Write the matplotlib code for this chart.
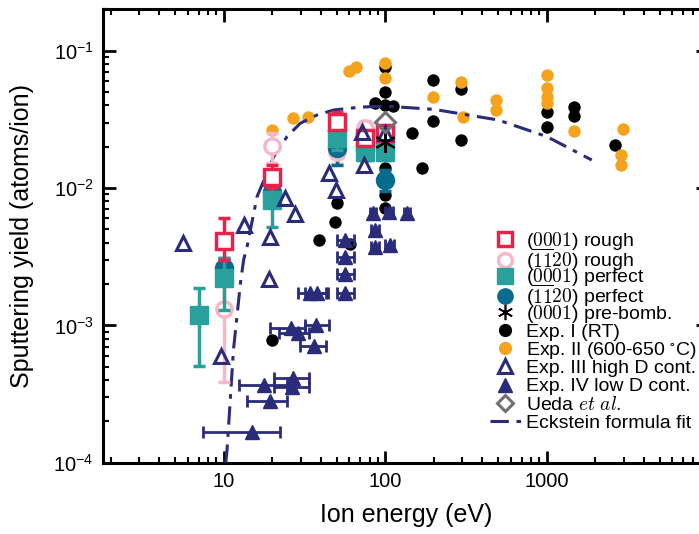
import numpy as np
import matplotlib
matplotlib.use("Agg")
import matplotlib.pyplot as plt
from matplotlib.lines import Line2D

plt.rcParams['font.family'] = ['Liberation Sans', 'DejaVu Sans']
plt.rcParams['mathtext.fontset'] = 'custom'
plt.rcParams['mathtext.rm'] = 'Liberation Sans'
plt.rcParams['mathtext.it'] = 'Liberation Sans:italic'
plt.rcParams['mathtext.default'] = 'regular'

# ---- data ----
# (0001) rough
r0001_E = [10, 20, 50, 75, 100]
r0001_Y = [0.0041, 0.0121, 0.0304, 0.0231, 0.025]
r0001_lo = [0.0030, 0.0100, 0.026, 0.020, 0.021]
r0001_hi = [0.0060, 0.0147, 0.036, 0.026, 0.028]

# (-1-120) rough
r1120_E = [10, 20, 50, 75, 100]
r1120_Y = [0.00131, 0.0202, 0.0184, 0.0272, 0.024]
r1120_lo = [0.00039, 0.0152, 0.0150, 0.0190, 0.020]
r1120_hi = [0.0025, 0.025, 0.022, 0.031, 0.028]

# (0001) perfect
p0001_E = [7, 10, 20, 50, 75, 100]
p0001_Y = [0.00119, 0.0022, 0.0082, 0.023, 0.0184, 0.0184]
p0001_lo = [0.00051, 0.0013, 0.0052, 0.019, 0.016, 0.016]
p0001_hi = [0.00188, 0.0031, 0.0105, 0.027, 0.021, 0.021]

# (-1-120) perfect
p1120_E = [10, 20, 50, 75, 100]
p1120_Y = [0.0026, 0.0093, 0.0195, 0.019, 0.0114]
p1120_lo = [0.0020, 0.0075, 0.0147, 0.016, 0.0095]
p1120_hi = [0.0031, 0.011, 0.024, 0.022, 0.0135]

# (0001) pre-bombarded
pre_E = [100]
pre_Y = [0.0217]

# Exp. I (RT)
exp1_E = [20, 38.7, 49, 50, 60.8, 100, 100, 86.7, 100, 111.7, 100, 100, 100,
          146, 170, 199, 199, 295, 295, 1000, 1000, 1475, 1475, 2640]
exp1_Y = [7.8e-4, 0.00418, 0.0057, 0.0078, 0.0039, 0.0765, 0.050, 0.0418, 0.040,
          0.0396, 0.0139, 0.0089, 0.0071, 0.0253, 0.0139, 0.0308, 0.061, 0.053,
          0.0224, 0.036, 0.028, 0.039, 0.0334, 0.0206]

# Exp. II (600-650 C)
exp2_E = [20, 26.8, 33.3, 60, 66.2, 100, 100, 199, 295, 305, 485, 485,
          1000, 1000, 1000, 1000, 1474, 2980, 2870, 2870]
exp2_Y = [0.0264, 0.0322, 0.033, 0.0711, 0.0757, 0.0818, 0.063, 0.0458, 0.0594,
          0.0327, 0.0438, 0.037, 0.0665, 0.0532, 0.0462, 0.0419, 0.0261, 0.0269,
          0.0174, 0.0147]

# Exp. III high D content
exp3_E = [5.6, 9.7, 13.3, 19, 19.4, 24.1, 27.7, 44.6, 49.5, 71.8, 73.5, 100]
exp3_Y = [0.004, 0.0006, 0.00537, 0.00216, 0.00437, 0.0084, 0.00643, 0.0128,
          0.0097, 0.0257, 0.0147, 0.025]

# Exp. IV low D content (with energy spread)
exp4_E = [15, 17.7, 26.8, 26.5, 19.4, 26.2, 29, 37.4, 36.1, 34.3, 37.8,
          56.6, 56.6, 56.6, 56.6, 84, 106, 136, 86.7, 87, 107]
exp4_Y = [1.68e-4, 3.67e-4, 4.11e-4, 3.57e-4, 2.82e-4, 9.5e-4, 8.8e-4, 1.0e-3,
          7.06e-4, 1.71e-3, 1.71e-3, 0.0042, 0.00316, 0.00237, 0.00171, 0.00655,
          0.0067, 0.00655, 0.00494, 0.00373, 0.00385]
exp4_Elo = [7.5, 12.4, 20.4, 20.4, 14.0, 19.4, 22, 32, 29.9, 29, 32,
            50, 50, 50, 50, 80, 100, 130, 82, 82, 100]
exp4_Ehi = [22.4, 24.6, 33.6, 33.6, 24.6, 32, 34, 44.6, 43.2, 43.2, 44,
            64, 64, 64, 64, 88, 112, 142, 92, 92, 114]

# Ueda et al.
ueda_E = [100]
ueda_Y = [0.0304]

# Eckstein formula fit
eck_E = [10.3, 10.5, 11.5, 12.7, 13.3, 14.0, 16.1, 20.4, 24.7, 29.8, 37.8, 48,
         70, 100, 200, 500, 1000, 1900]
eck_Y = [1.0e-4, 1.24e-4, 6.6e-4, 2.02e-3, 3.0e-3, 3.8e-3, 8.65e-3, 0.0169,
         0.0237, 0.0296, 0.034, 0.037, 0.0388, 0.0395, 0.0374, 0.0313, 0.0237,
         0.016]

c_red = '#e8224a'
c_pink = '#f6b7c9'
c_teal = '#2aa09c'
c_petrol = '#066b8c'
c_navy = '#2a2b79'
c_orange = '#f5a21c'
c_gray = '#707070'

fig = plt.figure(figsize=(6.99, 5.34), dpi=100)
ax = fig.add_axes([0.1478, 0.1335, 0.8655, 0.849])
ax.set_xscale('log')
ax.set_yscale('log')


def yerr(y, lo, hi):
    y = np.array(y)
    return [y - np.array(lo), np.array(hi) - y]


ax.scatter(exp1_E, exp1_Y, s=80, color='black', zorder=3, linewidths=0)
ax.scatter(exp2_E, exp2_Y, s=80, color=c_orange, zorder=3, linewidths=0)
ax.errorbar(exp4_E, exp4_Y,
            xerr=[np.array(exp4_E) - np.array(exp4_Elo), np.array(exp4_Ehi) - np.array(exp4_E)],
            fmt='^', ms=10, color=c_navy, ecolor=c_navy, elinewidth=2, capsize=4,
            capthick=2, zorder=4)

ax.errorbar(r1120_E, r1120_Y, yerr=yerr(r1120_Y, r1120_lo, r1120_hi), fmt='o', ms=11,
            mfc='white', mec=c_pink, mew=2.5, ecolor=c_pink, elinewidth=2.5, capsize=4,
            capthick=2.5, zorder=5)
ax.errorbar(p1120_E, p1120_Y, yerr=yerr(p1120_Y, p1120_lo, p1120_hi), fmt='o', ms=13,
            color=c_petrol, elinewidth=2.5, capsize=4, capthick=2.5, zorder=5)
ax.errorbar(p0001_E, p0001_Y, yerr=yerr(p0001_Y, p0001_lo, p0001_hi), fmt='s', ms=13,
            color=c_teal, elinewidth=2.5, capsize=4, capthick=2.5, zorder=6)
ax.errorbar(r0001_E, r0001_Y, yerr=yerr(r0001_Y, r0001_lo, r0001_hi), fmt='s', ms=11,
            mfc='white', mec=c_red, mew=2.5, ecolor=c_red, elinewidth=2.5, capsize=4,
            capthick=2.5, zorder=6)
ax.plot(exp3_E, exp3_Y, '^', ms=10, mfc='none', mec=c_navy, mew=2.2, ls='none', zorder=7)
ax.plot(pre_E, pre_Y, marker=(6, 2, 0), ms=15, color='black', mew=1.5, ls='none', zorder=8)
ax.plot(ueda_E, ueda_Y, 'D', ms=10, mfc='none', mec=c_gray, mew=2.2, ls='none', zorder=8)
ax.plot(eck_E, eck_Y, ls=(0, (6, 2.5, 1.5, 2.5)), color=c_navy, lw=2.2, zorder=4)

ax.set_xlim(1.8, 10000)
ax.set_ylim(1e-4, 0.2)

ax.tick_params(which='both', direction='in', top=True, right=True, width=2, labelsize=14.5,
               pad=7)
ax.tick_params(which='major', length=9)
ax.tick_params(which='minor', length=4.5, width=1.5)
ax.set_xticks([10, 100, 1000])
ax.set_xticklabels(['10', '100', '1000'])
for s in ax.spines.values():
    s.set_linewidth(2.2)

ax.set_xlabel('Ion energy (eV)', fontsize=18, labelpad=8)
ax.set_ylabel('Sputtering yield (atoms/ion)', fontsize=18, labelpad=14)

handles = [
    Line2D([], [], ls='none', marker='s', ms=10, mfc='white', mec=c_red, mew=2.5),
    Line2D([], [], ls='none', marker='o', ms=10, mfc='white', mec=c_pink, mew=2.5),
    Line2D([], [], ls='none', marker='s', ms=11, color=c_teal),
    Line2D([], [], ls='none', marker='o', ms=11, color=c_petrol),
    Line2D([], [], ls='none', marker=(6, 2, 0), ms=11, color='black', mew=1.2),
    Line2D([], [], ls='none', marker='o', ms=8.5, color='black'),
    Line2D([], [], ls='none', marker='o', ms=8.5, color=c_orange),
    Line2D([], [], ls='none', marker='^', ms=10, mfc='none', mec=c_navy, mew=2.2),
    Line2D([], [], ls='none', marker='^', ms=10, color=c_navy),
    Line2D([], [], ls='none', marker='D', ms=8.5, mfc='none', mec=c_gray, mew=2.2),
    Line2D([], [], ls=(0, (6, 2.5, 1.5, 2.5)), color=c_navy, lw=2.2),
]
labels = [
    r'($\mathrm{0001}$) rough',
    r'($\mathrm{\overline{1}\overline{1}20}$) rough',
    r'($\mathrm{0001}$) perfect',
    r'($\mathrm{\overline{1}\overline{1}20}$) perfect',
    r'($\mathrm{0001}$) pre-bomb.',
    'Exp. I (RT)',
    r'Exp. II (600-650 $^{\circ}$C)',
    'Exp. III high D cont.',
    'Exp. IV low D cont.',
    r'Ueda $\mathit{et\ al.}$',
    'Eckstein formula fit',
]

# one legend row per entry so that the rows are evenly spaced
W, H = 699.0, 534.0
row0, pitch = 241.0, 18.2
for i, (h, lab) in enumerate(zip(handles, labels)):
    leg = fig.legend([h], [lab], loc='center left',
                     bbox_to_anchor=(489.5 / W, 1 - (row0 + i * pitch) / H),
                     frameon=False, fontsize=14, handlelength=1.6, handletextpad=0.3,
                     borderpad=0, borderaxespad=0)
    for t in leg.get_texts():
        t.set_math_fontfamily('cm')

fig.savefig('out.png', dpi=100)
